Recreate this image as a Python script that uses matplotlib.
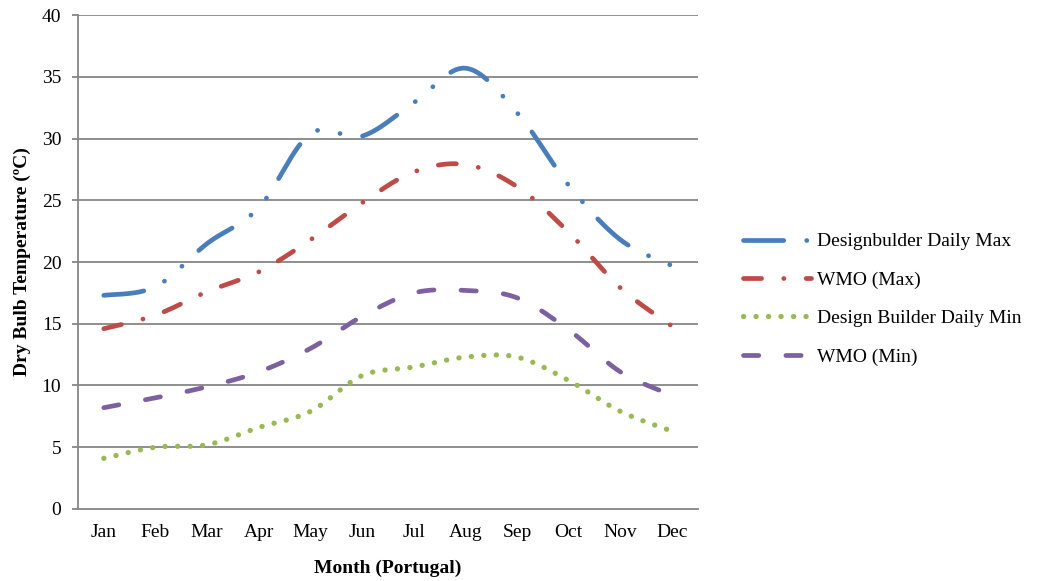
import numpy as np
import matplotlib
matplotlib.use("Agg")
import matplotlib.pyplot as plt

plt.rcParams["font.family"] = ["Liberation Serif", "DejaVu Serif"]
plt.rcParams["lines.scale_dashes"] = False

months = ["Jan", "Feb", "Mar", "Apr", "May", "Jun",
          "Jul", "Aug", "Sep", "Oct", "Nov", "Dec"]

db_max = [17.3, 18.0, 21.5, 24.4, 30.4, 30.2, 32.9, 35.7, 32.1, 26.2, 21.8, 19.7]
wmo_max = [14.6, 15.7, 17.6, 19.2, 21.8, 24.8, 27.3, 27.9, 26.1, 22.4, 17.9, 14.8]
db_min = [4.1, 5.0, 5.2, 6.6, 7.9, 10.8, 11.5, 12.3, 12.3, 10.4, 7.9, 6.3]
wmo_min = [8.2, 9.0, 9.9, 11.1, 13.0, 15.6, 17.5, 17.7, 17.1, 14.5, 11.1, 9.2]

series_labels = ["Designbulder Daily Max", "WMO (Max)",
                 "Design Builder Daily Min", "WMO (Min)"]
colors = ["#4A7EBB", "#BE4B48", "#98B954", "#7D60A0"]
widths = [3.4, 3.4, 3.8, 3.4]
dashes = [
    (0, (29, 16.5, 0.1, 16.5, 0.1, 16.5)),
    (0, (13, 16, 0.1, 16)),
    (0, (0.1, 8.9)),
    (0, (11, 19.5)),
]


def smooth(y, n=40):
    """Catmull-Rom curve through the points, like a spreadsheet's smoothed line."""
    y = np.asarray(y, float)
    x = np.arange(len(y), dtype=float)
    px = np.concatenate([[x[0]], x, [x[-1]]])
    py = np.concatenate([[y[0]], y, [y[-1]]])
    xs, ys = [], []
    for i in range(1, len(px) - 2):
        p0x, p1x, p2x, p3x = px[i - 1], px[i], px[i + 1], px[i + 2]
        p0y, p1y, p2y, p3y = py[i - 1], py[i], py[i + 1], py[i + 2]
        c1x, c1y = p1x + (p2x - p0x) / 6, p1y + (p2y - p0y) / 6
        c2x, c2y = p2x - (p3x - p1x) / 6, p2y - (p3y - p1y) / 6
        t = np.linspace(0, 1, n, endpoint=(i == len(px) - 3))
        b0 = (1 - t) ** 3
        b1 = 3 * (1 - t) ** 2 * t
        b2 = 3 * (1 - t) * t ** 2
        b3 = t ** 3
        xs.append(b0 * p1x + b1 * c1x + b2 * c2x + b3 * p2x)
        ys.append(b0 * p1y + b1 * c1y + b2 * c2y + b3 * p2y)
    return np.concatenate(xs), np.concatenate(ys)


fig = plt.figure(figsize=(10.48, 5.81), dpi=100)
ax = fig.add_axes([0.0744, 0.124, 0.5916, 0.850])

grid_c = "#868686"
for v in range(5, 45, 5):
    ax.axhline(v, color=grid_c, lw=1.3, zorder=1)

for vals, lab, c, lw, ls in zip([db_max, wmo_max, db_min, wmo_min],
                                series_labels, colors, widths, dashes):
    xs, ys = smooth(vals)
    ax.plot(xs, ys, color=c, lw=lw, linestyle=ls,
            dash_capstyle="round", solid_capstyle="round", label=lab, zorder=3)

ax.set_xlim(-0.5, 11.5)
ax.set_ylim(0, 40)
ax.set_yticks(range(0, 45, 5))
ax.set_xticks(range(12))
ax.set_xticklabels(months)

for s in ["top", "right"]:
    ax.spines[s].set_visible(False)
for s in ["left", "bottom"]:
    ax.spines[s].set_color(grid_c)
    ax.spines[s].set_linewidth(1.3)

ax.tick_params(axis="y", length=4, width=1.3, color=grid_c, pad=8, labelsize=14)
ax.tick_params(axis="x", length=0, pad=11, labelsize=14)

ax.set_xlabel("Month (Portugal)", fontsize=14, fontweight="bold", labelpad=13)
ax.set_ylabel("Dry Bulb Temperature (ºC)", fontsize=14, fontweight="bold", labelpad=8)

leg = fig.legend(loc="center left", bbox_to_anchor=(0.700, 0.485),
                 frameon=False, fontsize=14, handlelength=3.5,
                 handletextpad=0.3, labelspacing=1.07, borderpad=0)

fig.savefig("out.png", dpi=100)
